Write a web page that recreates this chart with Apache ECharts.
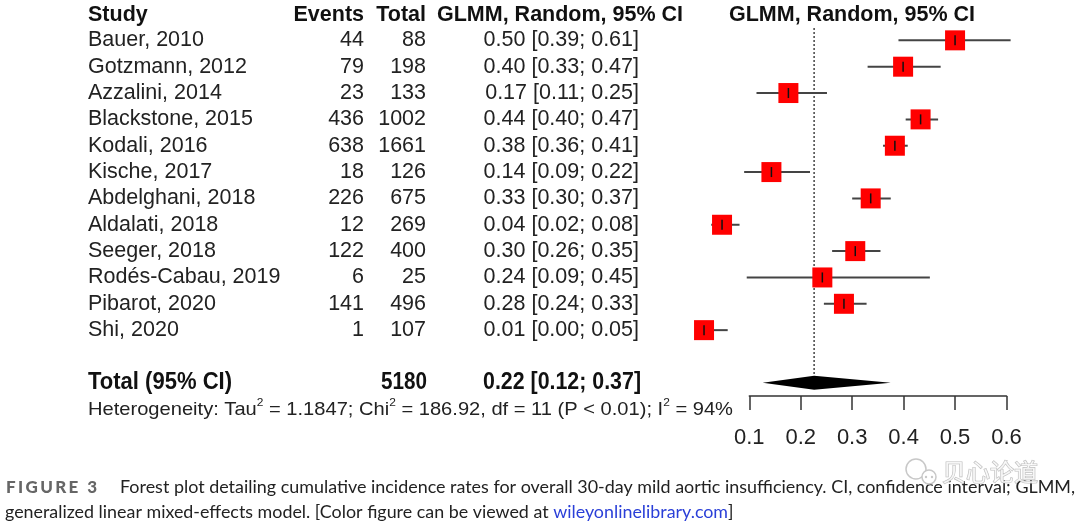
<!DOCTYPE html>
<html><head><meta charset="utf-8">
<script src="https://cdn.jsdelivr.net/npm/echarts@6/dist/echarts.min.js"></script>
<style>html,body{margin:0;padding:0;background:#fff}#c{width:1080px;height:526px}</style>
</head><body><div id="c"></div>
<script>
// ---- data ----
const studies = ['Bauer, 2010','Gotzmann, 2012','Azzalini, 2014','Blackstone, 2015','Kodali, 2016','Kische, 2017','Abdelghani, 2018','Aldalati, 2018','Seeger, 2018','Rodés-Cabau, 2019','Pibarot, 2020','Shi, 2020'];
const events = [44,79,23,436,638,18,226,12,122,6,141,1];
const totals = [88,198,133,1002,1661,126,675,269,400,25,496,107];
const ciLabels = ['0.50 [0.39; 0.61]','0.40 [0.33; 0.47]','0.17 [0.11; 0.25]','0.44 [0.40; 0.47]','0.38 [0.36; 0.41]','0.14 [0.09; 0.22]','0.33 [0.30; 0.37]','0.04 [0.02; 0.08]','0.30 [0.26; 0.35]','0.24 [0.09; 0.45]','0.28 [0.24; 0.33]','0.01 [0.00; 0.05]'];
const est   = [0.500,0.399,0.176,0.433,0.383,0.143,0.336,0.047,0.306,0.242,0.284,0.012];
const lower = [0.390,0.330,0.114,0.404,0.360,0.090,0.300,0.026,0.261,0.095,0.245,0.004];
const upper = [0.608,0.472,0.251,0.467,0.408,0.218,0.375,0.081,0.355,0.451,0.328,0.058];
const pooledEst = 0.226, pooledLower = 0.126, pooledUpper = 0.375;
const pooledTotal = 5180;
const pooledName = 'Total (95% CI)';
const pooledLabel = '0.22 [0.12; 0.37]';
const xTicks = [0.1,0.2,0.3,0.4,0.5,0.6];
const headers = ['Study','Events','Total','GLMM, Random, 95% CI','GLMM, Random, 95% CI'];
const heterogeneityText = 'Heterogeneity: Tau{s|2} = 1.1847; Chi{s|2} = 186.92, df = 11 (P < 0.01); I{s|2} = 94%';
const figureTag = 'FIGURE 3';
const captionLine1 = 'Forest plot detailing cumulative incidence rates for overall 30-day mild aortic insufficiency. CI, confidence interval; GLMM,';
const captionLine2a = 'generalized linear mixed-effects model. [Color figure can be viewed at ';
const captionLink = 'wileyonlinelibrary.com';
const captionLine2b = ']';
const watermark = '贝心论道';

// ---- layout ----
const FONT = "'Liberation Sans', Arial, sans-serif";
const CAPF = "Lato, 'Open Sans', sans-serif";
const colStudy = 88, colEvents = 364, colTotal = 426, colCI = 639;
const totalRow = 13;

const mctx = document.createElement('canvas').getContext('2d');
function tw(text, font) { mctx.font = font; return mctx.measureText(text).width; }
function txt(text, x, y, align, font, fill, sx) {
  return {type:'text', x:x, y:y, scaleX:sx||1, silent:true,
    style:{text:text, font:font, fill:fill||'#222', align:align, verticalAlign:'middle'}};
}

const fTot = 'bold 23px ' + FONT;
const sTotName = 144 / tw(pooledName, fTot);
const sTotN = 46 / tw(String(pooledTotal), fTot);
const sTotL = 158 / tw(pooledLabel, fTot);
const fHet = '18.5px ' + FONT;
const hetPlain = heterogeneityText.replace(/\{s\|2\}/g, '');
const sHet = 645 / (tw(hetPlain, fHet) + 3 * tw('2', '11px ' + FONT));
const fCap = '17px ' + CAPF;
const sCap1 = 955 / tw(captionLine1, fCap);
const sCap2 = 728 / tw(captionLine2a + captionLink + captionLine2b, fCap);

// FIGURE 3 letter-spaced
const fTag = '900 17px ' + CAPF;
const tagChars = figureTag.split('');
const tagW = tagChars.reduce((a, ch) => a + tw(ch, fTag), 0);
const tagLS = (91 - tagW) / (tagChars.length - 1);
const tagEls = [];
{ let x = 6; tagChars.forEach(ch => { tagEls.push(txt(ch, x, 488, 'left', fTag, '#666666')); x += tw(ch, fTag) + tagLS; }); }

const chart = echarts.init(document.getElementById('c'));
const option = {
  backgroundColor:'#fff',
  animation:false,
  grid:{left:749.3, right:73.5, top:14, bottom:130},
  xAxis:{type:'value', min:0.1, max:0.6, interval:0.1,
    axisLine:{onZero:false, lineStyle:{color:'#333', width:1.5}},
    axisTick:{length:14, lineStyle:{color:'#333', width:1.5}},
    axisLabel:{fontSize:22, color:'#222', margin:31, fontFamily:FONT,
      customValues: xTicks, formatter:v=>String(+(+v).toFixed(1))},
    splitLine:{show:false}},
  yAxis:{type:'value', inverse:true, min:-1, max:13.5, show:false},
  series:[
    {type:'custom', clip:false, z:2,
     data: studies.map((s,i)=>[est[i], lower[i], upper[i], i]),
     renderItem:(params, api)=>{
       const i = api.value(3);
       const c = api.coord([api.value(0), i]);
       const l = api.coord([api.value(1), i]);
       const u = api.coord([api.value(2), i]);
       const y = c[1];
       const f = '21.5px ' + FONT;
       return {type:'group', children:[
         {type:'line', shape:{x1:l[0], y1:y, x2:u[0], y2:y}, style:{stroke:'#444', lineWidth:2}},
         {type:'rect', shape:{x:c[0]-10, y:y-10, width:20, height:20}, style:{fill:'#ff0000'}},
         {type:'line', shape:{x1:c[0], y1:y-5, x2:c[0], y2:y+5}, style:{stroke:'#111', lineWidth:1.5}},
         txt(studies[i], colStudy, y, 'left', f),
         txt(String(events[i]), colEvents, y, 'right', f),
         txt(String(totals[i]), colTotal, y, 'right', f),
         txt(ciLabels[i], colCI, y, 'right', f)
       ]};
     }},
    {type:'custom', clip:false, z:1,
     data:[[pooledEst, pooledLower, pooledUpper, totalRow]],
     renderItem:(params, api)=>{
       const r = api.value(3);
       const c = api.coord([api.value(0), r]);
       const l = api.coord([api.value(1), r]);
       const u = api.coord([api.value(2), r]);
       const top = api.coord([api.value(0), -0.47]);
       const y = c[1];
       return {type:'group', children:[
         {type:'line', shape:{x1:c[0], y1:top[1], x2:c[0], y2:y}, style:{stroke:'#444', lineWidth:1.5, lineDash:[2,2]}},
         {type:'polygon', shape:{points:[[l[0],y],[c[0],y-7],[u[0],y],[c[0],y+7]]}, style:{fill:'#000'}},
         txt(pooledName, colStudy, y, 'left', fTot, '#111', sTotName),
         txt(String(pooledTotal), colTotal+1, y, 'right', fTot, '#111', sTotN),
         txt(pooledLabel, colCI+2, y, 'right', fTot, '#111', sTotL)
       ]};
     }}
  ],
  graphic:[
    txt(headers[0], colStudy, 15, 'left', 'bold 21.5px ' + FONT, '#111'),
    txt(headers[1], colEvents, 15, 'right', 'bold 21.5px ' + FONT, '#111'),
    txt(headers[2], colTotal, 15, 'right', 'bold 21.5px ' + FONT, '#111'),
    txt(headers[3], 437, 15, 'left', 'bold 21.5px ' + FONT, '#111'),
    txt(headers[4], 729, 15, 'left', 'bold 21.5px ' + FONT, '#111'),
    {type:'text', x:88, y:410, scaleX:sHet, silent:true,
     style:{text:heterogeneityText, font:fHet, fill:'#222', align:'left', verticalAlign:'middle', lineHeight:25,
       rich:{s:{fontSize:11, fontFamily:FONT, verticalAlign:'top', lineHeight:25, fill:'#222'}}}},
    ...tagEls,
    txt(captionLine1, 120, 488, 'left', fCap, '#222', sCap1),
    {type:'text', x:5, y:513, scaleX:sCap2, silent:true,
     style:{text:captionLine2a + '{b|' + captionLink + '}' + captionLine2b,
       font:fCap, fill:'#222', align:'left', verticalAlign:'middle',
       rich:{b:{fontSize:17, fontFamily:CAPF, fill:'#2a3fd8'}}}},
    {type:'circle', shape:{cx:916, cy:469, r:10}, style:{fill:'#fff', stroke:'#c8c8c8', lineWidth:1.5}, silent:true},
    {type:'circle', shape:{cx:929, cy:477, r:7}, style:{fill:'#fff', stroke:'#c8c8c8', lineWidth:1.5}, silent:true},
    {type:'circle', shape:{cx:926, cy:477, r:1.2}, style:{fill:'#c8c8c8'}, silent:true},
    {type:'circle', shape:{cx:932, cy:477, r:1.2}, style:{fill:'#c8c8c8'}, silent:true},
    {type:'text', x:942, y:472, silent:true,
     style:{text:watermark, font:"24px 'Noto Sans CJK SC', sans-serif", fill:'rgba(255,255,255,0.75)', stroke:'#bdbdbd', lineWidth:1.2,
       align:'left', verticalAlign:'middle'}}
  ]
};
chart.setOption(option);
</script></body></html>
